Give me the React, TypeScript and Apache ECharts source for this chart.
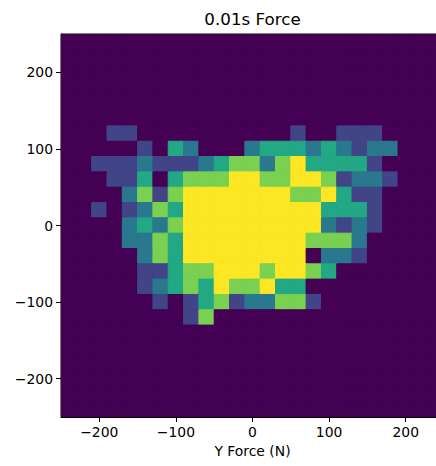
import React, { useEffect, useRef } from "react";
import * as echarts from "echarts";

const xBinCenters = [-240, -220, -200, -180, -160, -140, -120, -100, -80, -60, -40, -20, 0, 20, 40, 60, 80, 100, 120, 140, 160, 180, 200, 220, 240];
const yBinCenters = [240, 220, 200, 180, 160, 140, 120, 100, 80, 60, 40, 20, 0, -20, -40, -60, -80, -100, -120, -140, -160, -180, -200, -220, -240];
const binWidth = 20;

const Z = [0, 0, 0, 0, 0, 0, 0, 0, 0, 0, 0, 0, 0, 0, 0, 0, 0, 0, 0, 0, 0, 0, 0, 0, 0];
const counts: number[][] = [
  Z, Z, Z, Z, Z, Z,
  [0, 0, 0, 1, 1, 0, 0, 0, 0, 0, 0, 0, 0, 0, 0, 1, 0, 0, 1, 1, 1, 0, 0, 0, 0],
  [0, 0, 0, 0, 0, 1, 0, 3, 2, 0, 0, 0, 2, 3, 3, 3, 2, 3, 2, 1, 2, 2, 0, 0, 0],
  [0, 0, 1, 1, 1, 2, 1, 1, 1, 2, 3, 4, 4, 2, 4, 5, 3, 3, 3, 3, 1, 0, 0, 0, 0],
  [0, 0, 0, 1, 1, 3, 0, 3, 4, 4, 4, 5, 5, 4, 4, 5, 5, 4, 1, 2, 2, 1, 0, 0, 0],
  [0, 0, 0, 0, 2, 4, 1, 4, 5, 5, 5, 5, 5, 5, 5, 4, 4, 5, 3, 1, 1, 0, 0, 0, 0],
  [0, 0, 1, 0, 1, 2, 4, 3, 5, 5, 5, 5, 5, 5, 5, 5, 5, 3, 3, 3, 1, 0, 0, 0, 0],
  [0, 0, 0, 0, 2, 3, 2, 4, 5, 5, 5, 5, 5, 5, 5, 5, 5, 2, 1, 2, 1, 0, 0, 0, 0],
  [0, 0, 0, 0, 2, 2, 4, 3, 5, 5, 5, 5, 5, 5, 5, 5, 4, 4, 4, 2, 0, 0, 0, 0, 0],
  [0, 0, 0, 0, 0, 2, 4, 3, 5, 5, 5, 5, 5, 5, 5, 5, 0, 2, 2, 1, 0, 0, 0, 0, 0],
  [0, 0, 0, 0, 0, 1, 1, 3, 4, 4, 5, 5, 5, 4, 5, 5, 4, 3, 0, 0, 0, 0, 0, 0, 0],
  [0, 0, 0, 0, 0, 1, 2, 3, 4, 3, 5, 4, 4, 5, 3, 3, 0, 0, 0, 0, 0, 0, 0, 0, 0],
  [0, 0, 0, 0, 0, 0, 1, 0, 1, 3, 4, 1, 2, 2, 4, 4, 1, 0, 0, 0, 0, 0, 0, 0, 0],
  [0, 0, 0, 0, 0, 0, 0, 0, 1, 4, 0, 0, 0, 0, 0, 0, 0, 0, 0, 0, 0, 0, 0, 0, 0],
  Z, Z, Z, Z, Z, Z,
];

const viridis = ["#440154", "#414487", "#2a788e", "#22a884", "#7ad151", "#fde725"];
const FONT = "DejaVu Sans";
const fmt = (v: number) => String(v).replace("-", "\u2212");

export default function App() {
  const ref = useRef<HTMLDivElement>(null);
  useEffect(() => {
    if (!ref.current) return;
    const chart = echarts.init(ref.current, undefined, { renderer: "svg" });
    const data: number[][] = [];
    yBinCenters.forEach((y, j) => {
      xBinCenters.forEach((x, i) => {
        data.push([x, y, counts[j][i]]);
      });
    });
    const half = binWidth / 2;
    chart.setOption({
      animation: false,
      backgroundColor: "#ffffff",
      graphic: [
        {
          type: "text",
          x: 252.5,
          y: 19,
          style: {
            text: "0.01s Force",
            font: `16.7px '${FONT}'`,
            fill: "#000",
            textAlign: "center",
            textVerticalAlign: "middle",
          },
        },
      ],
      grid: {
        left: 61,
        top: 34,
        width: 383,
        height: 383,
        show: true,
        borderColor: "#000",
        borderWidth: 1,
        backgroundColor: viridis[0],
      },
      visualMap: {
        show: false,
        type: "continuous",
        min: 0,
        max: 5,
        dimension: 2,
        inRange: { color: viridis },
      },
      xAxis: {
        type: "value",
        min: -250,
        max: 250,
        name: "Y Force (N)",
        nameLocation: "middle",
        nameGap: 27,
        nameTextStyle: { fontFamily: FONT, fontSize: 13.9, color: "#000" },
        splitLine: { show: false },
        axisLine: { show: true, onZero: false, lineStyle: { color: "#000" } },
        axisTick: { show: true, length: 5, lineStyle: { color: "#000" } },
        axisLabel: {
          margin: 8,
          showMinLabel: false,
          showMaxLabel: false,
          fontFamily: FONT,
          fontSize: 13.9,
          color: "#000",
          formatter: fmt,
        },
      },
      yAxis: {
        type: "value",
        min: -250,
        max: 250,
        splitLine: { show: false },
        axisLine: { show: true, onZero: false, lineStyle: { color: "#000" } },
        axisTick: { show: true, length: 5, lineStyle: { color: "#000" } },
        axisLabel: {
          margin: 8,
          showMinLabel: false,
          showMaxLabel: false,
          fontFamily: FONT,
          fontSize: 13.9,
          color: "#000",
          formatter: fmt,
        },
      },
      series: [
        {
          type: "custom",
          clip: true,
          data,
          encode: { x: 0, y: 1 },
          renderItem: (params: any, api: any) => {
            const x = api.value(0);
            const y = api.value(1);
            const p0 = api.coord([x - half, y + half]);
            const p1 = api.coord([x + half, y - half]);
            const color = api.visual("color");
            return {
              type: "rect",
              shape: { x: p0[0], y: p0[1], width: p1[0] - p0[0], height: p1[1] - p0[1] },
              style: { fill: color, stroke: color, lineWidth: 1 },
            };
          },
        },
      ],
    });
    return () => chart.dispose();
  }, []);
  return (
    <div style={{ position: "fixed", left: 0, top: 0, width: 436, height: 466, overflow: "hidden" }}>
      <div ref={ref} style={{ width: 450, height: 466 }} />
    </div>
  );
}
